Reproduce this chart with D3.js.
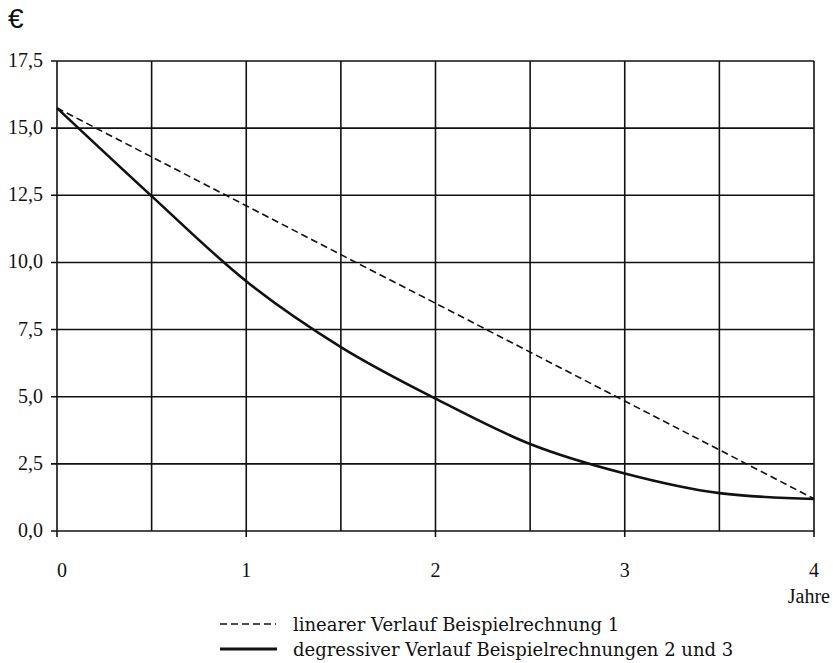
<!DOCTYPE html>
<html><head><meta charset="utf-8">
<script src="https://cdn.jsdelivr.net/npm/d3@7"></script>
<style>body{margin:0;background:#fff}svg{display:block}text{font-family:"Liberation Serif","Times New Roman",serif;fill:#111}</style>
</head><body>
<svg id="c" width="833" height="663"></svg>
<script>
const years = [0, 0.5, 1, 1.5, 2, 2.5, 3, 3.5, 4];
const linearValues = [15.75, 13.93, 12.11, 10.29, 8.48, 6.66, 4.84, 3.02, 1.2];
const degressiveValues = [15.75, 12.47, 9.3, 6.85, 4.93, 3.24, 2.14, 1.41, 1.19];
const yTicks = [0, 2.5, 5, 7.5, 10, 12.5, 15, 17.5];
const xTickLabels = [0, 1, 2, 3, 4];
const xGrid = [0, 0.5, 1, 1.5, 2, 2.5, 3, 3.5, 4];
const legendLabels = ["linearer Verlauf Beispielrechnung 1", "degressiver Verlauf Beispielrechnungen 2 und 3"];

const W = 833, H = 663, m = {l: 57, r: 19, t: 61, b: 132};
const svg = d3.select("#c");
const x = d3.scaleLinear().domain([0, 4]).range([m.l, W - m.r]);
const y = d3.scaleLinear().domain([0, 17.5]).range([H - m.b, m.t]);
const fmt = v => d3.format(".1f")(v).replace(".", ",");

// grid
svg.append("g").selectAll("line").data(yTicks).join("line")
  .attr("x1", m.l - 6).attr("x2", W - m.r).attr("y1", d => y(d)).attr("y2", d => y(d))
  .attr("stroke", "#111").attr("stroke-width", 1.6);
svg.append("g").selectAll("line").data(xGrid).join("line")
  .attr("y1", m.t).attr("y2", d => Number.isInteger(d) ? y(0) + 6 : y(0))
  .attr("x1", d => x(d)).attr("x2", d => x(d))
  .attr("stroke", "#111").attr("stroke-width", 1.6);

// y labels
svg.append("g").selectAll("text").data(yTicks).join("text")
  .attr("x", 43).attr("y", d => y(d) + 6).attr("text-anchor", "end")
  .attr("font-size", 20).text(fmt);
// x labels
svg.append("g").selectAll("text").data(xTickLabels).join("text")
  .attr("x", d => x(d) + (d === 0 ? 5 : 0)).attr("y", 577).attr("text-anchor", "middle")
  .attr("font-size", 20).text(d => d);

svg.append("text").attr("x", 830).attr("y", 603).attr("text-anchor", "end")
  .attr("font-size", 20).text("Jahre");
svg.append("text").attr("x", 8).attr("y", 28)
  .style("font-family", "'Liberation Sans', Arial, sans-serif").attr("font-size", 28).text("€");

// lines
const lineLin = d3.line().x((d, i) => x(years[i])).y(d => y(d));
svg.append("path").datum(linearValues).attr("d", lineLin)
  .attr("fill", "none").attr("stroke", "#111").attr("stroke-width", 1.6).attr("stroke-dasharray", "7,4");
const lineDeg = d3.line().x((d, i) => x(years[i])).y(d => y(d)).curve(d3.curveMonotoneX);
svg.append("path").datum(degressiveValues).attr("d", lineDeg)
  .attr("fill", "none").attr("stroke", "#111").attr("stroke-width", 2.6);

// legend
const lg = svg.append("g");
lg.append("line").attr("x1", 220).attr("x2", 276).attr("y1", 624).attr("y2", 624)
  .attr("stroke", "#111").attr("stroke-width", 1.6).attr("stroke-dasharray", "7,4");
lg.append("line").attr("x1", 220).attr("x2", 277).attr("y1", 649).attr("y2", 649)
  .attr("stroke", "#111").attr("stroke-width", 3.2);
lg.selectAll("text").data(legendLabels).join("text")
  .attr("x", 293).attr("y", (d, i) => 631 + i * 25).attr("font-size", 18)
  .style("font-family", "'DejaVu Serif', serif").text(d => d);
</script>
</body></html>
